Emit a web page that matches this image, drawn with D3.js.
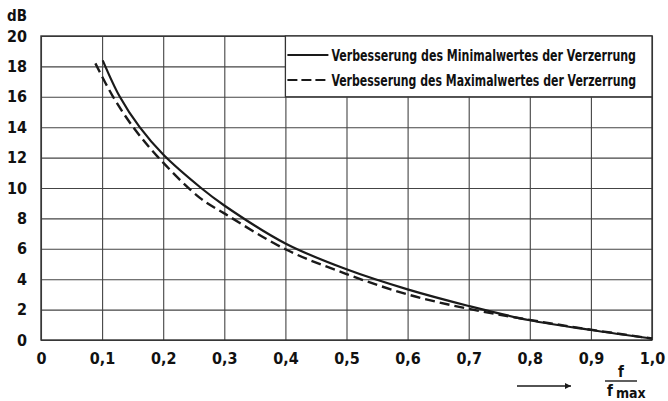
<!DOCTYPE html>
<html>
<head>
<meta charset="utf-8">
<script src="https://cdn.jsdelivr.net/npm/d3@7"></script>
<style>
  body { margin: 0; background: #fff; }
  svg { display: block; }
  text { font-family: "Liberation Sans Narrow", "DejaVu Sans Condensed", sans-serif; font-weight: bold; fill: #111; }
</style>
</head>
<body>
<figure id="chart" style="margin:0"></figure>
<script>
// values
const xTicks = [0, 0.1, 0.2, 0.3, 0.4, 0.5, 0.6, 0.7, 0.8, 0.9, 1.0];
const yTicks = [0, 2, 4, 6, 8, 10, 12, 14, 16, 18, 20];

const minX = [0.101, 0.129, 0.1615, 0.2, 0.262, 0.3, 0.4, 0.5, 0.6, 0.7, 0.8, 0.9, 1.0];
const minY = [18.4, 16, 14, 12.2, 10, 8.85, 6.35, 4.65, 3.33, 2.24, 1.3, 0.66, 0.1];

const maxX = [0.089, 0.118, 0.151, 0.19, 0.26, 0.3, 0.4, 0.5, 0.6, 0.7, 0.8, 0.9, 1.0];
const maxY = [18.2, 16, 14, 12.1, 9.35, 8.33, 5.97, 4.34, 3.0, 2.05, 1.32, 0.68, 0.1];

const legendLabels = [
  "Verbesserung des Minimalwertes der Verzerrung",
  "Verbesserung des Maximalwertes der Verzerrung"
];

const width = 668;
const height = 401;
const margin = { top: 36, right: 16, bottom: 61, left: 41 };
const ink = "#1a1a1a";

const svg = d3.select("figure#chart")
  .append("svg")
  .attr("width", width)
  .attr("height", height);

const x = d3.scaleLinear()
  .domain([0, 1])
  .range([margin.left, width - margin.right]);

const y = d3.scaleLinear()
  .domain([0, 20])
  .range([height - margin.bottom, margin.top]);

const fmt = d => d === 0 ? "0" : d3.format(".1f")(d).replace(".", ",");

// grid via axes
svg.append("g")
  .attr("transform", "translate(0," + y(0) + ")")
  .call(d3.axisBottom(x)
    .tickValues(xTicks)
    .tickSize(-(y(0) - y(20)))
    .tickPadding(13)
    .tickFormat(fmt))
  .call(g => g.select(".domain").remove())
  .call(g => g.selectAll("line").attr("stroke", "#444").attr("stroke-width", 1.1))
  .call(g => g.selectAll("text").attr("font-size", 16));

svg.append("g")
  .attr("transform", "translate(" + x(0) + ",0)")
  .call(d3.axisLeft(y)
    .tickValues(yTicks)
    .tickSize(-(x(1) - x(0)))
    .tickPadding(14)
    .tickFormat(d3.format("d")))
  .call(g => g.select(".domain").remove())
  .call(g => g.selectAll("line").attr("stroke", "#444").attr("stroke-width", 1.1))
  .call(g => g.selectAll("text").attr("font-size", 16).attr("fill", ink));

// frame
svg.append("rect")
  .attr("x", x(0))
  .attr("y", y(20))
  .attr("width", x(1) - x(0))
  .attr("height", y(0) - y(20))
  .attr("fill", "none")
  .attr("stroke", "#333")
  .attr("stroke-width", 1.4);

svg.append("text")
  .attr("x", 27)
  .attr("y", 21)
  .attr("text-anchor", "end")
  .attr("font-size", 15)
  .text("dB");

// curves
const line = d3.line()
  .x(d => x(d[0]))
  .y(d => y(d[1]))
  .curve(d3.curveCatmullRom.alpha(0.5));

svg.append("path")
  .datum(d3.zip(minX, minY))
  .attr("d", line)
  .attr("fill", "none")
  .attr("stroke", ink)
  .attr("stroke-width", 2.2);

svg.append("path")
  .datum(d3.zip(maxX, maxY))
  .attr("d", line)
  .attr("fill", "none")
  .attr("stroke", ink)
  .attr("stroke-width", 2.4)
  .attr("stroke-dasharray", "10,5");

// legend box covering the grid
const lg = svg.append("g");
lg.append("rect")
  .attr("x", x(0.4))
  .attr("y", y(20))
  .attr("width", x(1) - x(0.4))
  .attr("height", y(16) - y(20))
  .attr("fill", "#fff")
  .attr("stroke", "#333")
  .attr("stroke-width", 1.3);

legendLabels.forEach((label, i) => {
  const ly = 55 + i * 25;
  lg.append("line")
    .attr("x1", x(0.4) + 2)
    .attr("x2", x(0.4) + 43)
    .attr("y1", ly)
    .attr("y2", ly)
    .attr("stroke", ink)
    .attr("stroke-width", 2)
    .attr("stroke-dasharray", i === 0 ? null : "10,4");
  const t = lg.append("text")
    .attr("font-size", 15)
    .text(label);
  // squeeze to the width the reference uses
  const sx = Math.min(1, 305 / t.node().getComputedTextLength());
  t.attr("transform", "translate(" + (x(0.4) + 46) + "," + (ly + 6) + ") scale(" + sx + ",1)");
});

// f / f max with arrow
svg.append("defs").append("marker")
  .attr("id", "arrow")
  .attr("viewBox", "0 0 10 10")
  .attr("refX", 10)
  .attr("refY", 5)
  .attr("markerWidth", 9)
  .attr("markerHeight", 6)
  .attr("markerUnits", "userSpaceOnUse")
  .attr("orient", "auto")
  .append("path")
  .attr("d", "M0,0L10,5L0,10Z")
  .attr("fill", ink);

svg.append("line")
  .attr("x1", 517)
  .attr("x2", 571)
  .attr("y1", 386)
  .attr("y2", 386)
  .attr("stroke", ink)
  .attr("stroke-width", 1.6)
  .attr("marker-end", "url(#arrow)");

svg.append("text")
  .attr("x", 621)
  .attr("y", 377)
  .attr("text-anchor", "middle")
  .attr("font-size", 15)
  .text("f");

svg.append("line")
  .attr("x1", 605)
  .attr("x2", 637)
  .attr("y1", 381)
  .attr("y2", 381)
  .attr("stroke", ink)
  .attr("stroke-width", 1.4);

const fm = svg.append("text")
  .attr("x", 607)
  .attr("y", 396)
  .attr("font-size", 15);
fm.append("tspan").text("f");
fm.append("tspan").attr("dx", 3).attr("dy", 2).attr("font-size", 14).text("max");
</script>
</body>
</html>
